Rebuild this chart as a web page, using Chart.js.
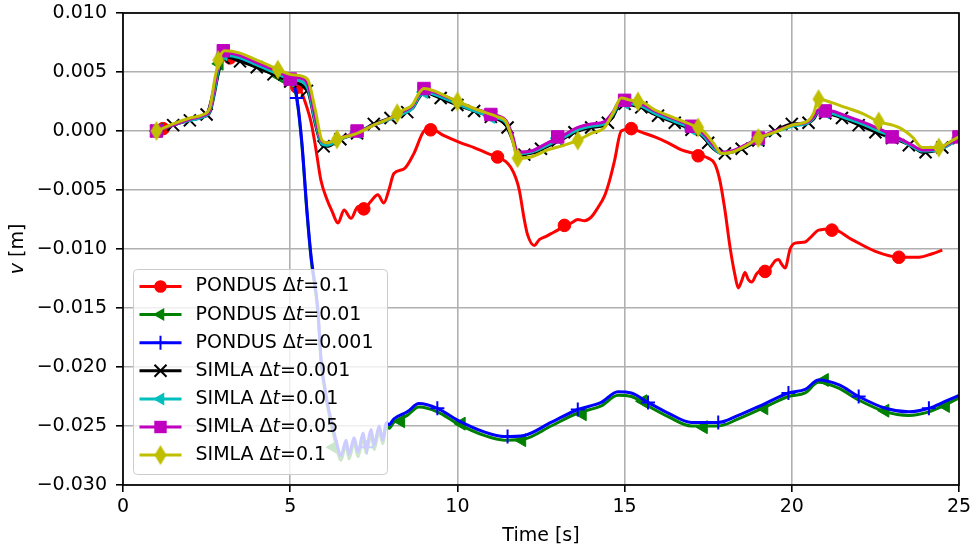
<!DOCTYPE html>
<html>
<head>
<meta charset="utf-8">
<script src="https://cdn.jsdelivr.net/npm/chart.js@4/dist/chart.umd.min.js"></script>
<style>
html,body{margin:0;padding:0;background:#fff;}
#wrap{width:974px;height:550px;}
</style>
</head>
<body>
<div id="wrap"><canvas id="c" width="974" height="550"></canvas></div>
<script>
// ---------------- DATA (time [s], v [m]) ----------------
const xTicks = [0, 5, 10, 15, 20, 25];
const yTicks = [-0.030, -0.025, -0.020, -0.015, -0.010, -0.005, 0.000, 0.005, 0.010];
const seriesNames = ['PONDUS', 'PONDUS', 'PONDUS', 'SIMLA', 'SIMLA', 'SIMLA', 'SIMLA'];
const seriesDt = ['0.1', '0.01', '0.001', '0.001', '0.01', '0.05', '0.1'];

// PONDUS dt=0.1 (red)
const pondus01Line = [
 [1.0,0.0000],[1.5,0.0005],[2.0,0.0010],[2.5,0.0014],[2.75,0.0040],[2.95,0.0060],[3.2,0.0063],[3.5,0.0060],
 [4.0,0.0055],[4.5,0.0048],[5.0,0.0042],[5.2,0.0038],[5.32,0.0034],[5.5,0.0020],[5.62,0.0008],[5.75,-0.0012],
 [5.92,-0.0042],[6.1,-0.0058],[6.25,-0.0068],[6.43,-0.0078],[6.61,-0.0067],[6.82,-0.0074],[7.03,-0.0064],
 [7.21,-0.0066],[7.4,-0.0060],[7.62,-0.0054],[7.8,-0.0061],[7.95,-0.0050],[8.1,-0.0036],[8.41,-0.0032],
 [8.7,-0.0019],[9.0,0.0000],[9.2,0.0002],[9.6,-0.0004],[10.1,-0.0010],[10.5,-0.0014],[10.9,-0.0019],
 [11.2,-0.0022],[11.45,-0.0026],[11.6,-0.0031],[11.75,-0.0040],[11.85,-0.0050],[12.0,-0.0075],[12.1,-0.0088],
 [12.3,-0.0097],[12.45,-0.0092],[12.6,-0.0090],[12.8,-0.0087],[13.0,-0.0084],[13.2,-0.0080],[13.4,-0.0078],
 [13.6,-0.0075],[13.8,-0.0076],[14.0,-0.0073],[14.2,-0.0065],[14.4,-0.0055],[14.55,-0.0042],[14.7,-0.0025],
 [14.9,0.0000],[15.2,0.0002],[15.5,-0.0001],[15.9,-0.0005],[16.3,-0.0010],[16.7,-0.0016],[17.2,-0.0020],
 [17.5,-0.0023],[17.7,-0.0028],[17.85,-0.0042],[18.0,-0.0067],[18.15,-0.0098],[18.3,-0.0122],[18.4,-0.0133],
 [18.5,-0.0127],[18.6,-0.0120],[18.7,-0.0126],[18.8,-0.0128],[18.95,-0.0121],[19.1,-0.0118],[19.25,-0.0119],
 [19.4,-0.0114],[19.5,-0.0110],[19.6,-0.0109],[19.7,-0.0113],[19.8,-0.0116],[19.95,-0.0100],[20.1,-0.0095],
 [20.4,-0.0094],[20.6,-0.0089],[20.8,-0.0084],[21.2,-0.0083],[21.8,-0.0092],[22.5,-0.0102],[23.2,-0.0107],
 [23.8,-0.0107],[24.2,-0.0104],[24.5,-0.0101]
];
const pondus01Marks = [[1.2,0.0002],[3.2,0.0062],[5.2,0.0037],[7.2,-0.0066],[9.2,0.0001],[11.2,-0.0022],
 [13.2,-0.0080],[15.2,0.0002],[17.2,-0.0021],[19.2,-0.0119],[21.2,-0.0084],[23.2,-0.0107]];

// PONDUS dt=0.01 (green)
const pondus001Line = [
 [1.0,0.0000],[1.5,0.0005],[2.0,0.0010],[2.5,0.0014],[2.75,0.0037],[2.95,0.0058],[3.2,0.0063],[3.5,0.0060],
 [4.0,0.0054],[4.5,0.0048],[5.0,0.0042],[5.1,0.0039],[5.2,0.0027],[5.35,-0.0012],[5.5,-0.0069],[5.62,-0.0107],
 [5.83,-0.0155],[5.92,-0.0195],[6.1,-0.0231],[6.37,-0.0266],[6.52,-0.0279],[6.67,-0.0266],[6.76,-0.0278],
 [6.91,-0.0264],[7.03,-0.0276],[7.18,-0.0260],[7.27,-0.0273],[7.42,-0.0257],[7.51,-0.0270],[7.66,-0.0254],
 [7.77,-0.0265],[7.87,-0.0250],[7.95,-0.0252],[8.1,-0.0247],[8.5,-0.0241],[8.85,-0.0234],[9.4,-0.0238],
 [10.0,-0.0248],[10.8,-0.0258],[11.4,-0.0262],[12.0,-0.0261],[12.8,-0.0250],[13.6,-0.0239],[14.3,-0.0233],
 [14.8,-0.0224],[15.2,-0.0225],[15.7,-0.0233],[16.3,-0.0242],[17.0,-0.0250],[17.8,-0.0250],[18.4,-0.0244],
 [19.2,-0.0234],[19.9,-0.0225],[20.4,-0.0222],[20.8,-0.0213],[21.4,-0.0218],[22.0,-0.0228],[22.8,-0.0238],
 [23.5,-0.0241],[24.1,-0.0238],[24.6,-0.0232],[25.0,-0.0226]
];
const pondus001Marks = [[1.07,0.0001],[2.88,0.0057],[4.69,0.0046],[6.3,-0.0268],[8.31,-0.0246],[10.12,-0.0248],
 [11.93,-0.0262],[13.74,-0.0240],[15.55,-0.0229],[17.36,-0.0251],[19.17,-0.0235],[20.98,-0.0211],[22.79,-0.0237],[24.6,-0.0233]];

// PONDUS dt=0.001 (blue)
const pondus0001Line = [
 [1.0,0.0000],[1.5,0.0005],[2.0,0.0010],[2.5,0.0014],[2.75,0.0038],[2.95,0.0060],[3.2,0.0064],[3.5,0.0061],
 [4.0,0.0055],[4.5,0.0049],[5.0,0.0043],[5.1,0.0040],[5.2,0.0028],[5.35,-0.0010],[5.5,-0.0067],[5.62,-0.0105],
 [5.83,-0.0152],[5.92,-0.0192],[6.1,-0.0228],[6.37,-0.0262],[6.52,-0.0275],[6.67,-0.0262],[6.76,-0.0274],
 [6.91,-0.0260],[7.03,-0.0272],[7.18,-0.0256],[7.27,-0.0269],[7.42,-0.0253],[7.51,-0.0266],[7.66,-0.0250],
 [7.77,-0.0262],[7.87,-0.0247],[7.95,-0.0249],[8.1,-0.0244],[8.5,-0.0238],[8.85,-0.0231],[9.4,-0.0235],
 [10.0,-0.0245],[10.8,-0.0255],[11.4,-0.0259],[12.0,-0.0258],[12.8,-0.0247],[13.6,-0.0236],[14.3,-0.0230],
 [14.8,-0.0221],[15.2,-0.0222],[15.7,-0.0230],[16.3,-0.0239],[17.0,-0.0247],[17.8,-0.0247],[18.4,-0.0241],
 [19.2,-0.0231],[19.9,-0.0222],[20.4,-0.0219],[20.8,-0.0211],[21.4,-0.0215],[22.0,-0.0225],[22.8,-0.0235],
 [23.5,-0.0238],[24.1,-0.0235],[24.6,-0.0229],[25.0,-0.0224]
];
const pondus0001Marks = [[1.0,0.0000],[3.1,0.0064],[5.2,0.0028],[7.3,-0.0268],[9.4,-0.0235],[11.5,-0.0259],
 [13.6,-0.0236],[15.7,-0.0230],[17.8,-0.0247],[19.9,-0.0222],[22.0,-0.0225],[24.1,-0.0235]];

// SIMLA dt=0.001 (black)
const simla0001Line = [
 [1.0,0.0000],[1.5,0.0005],[2.0,0.0009],[2.4,0.0012],[2.6,0.0016],[2.75,0.0034],[2.9,0.0057],[3.05,0.0063],
 [3.5,0.0059],[4.0,0.0054],[4.5,0.0048],[5.0,0.0042],[5.4,0.0038],[5.55,0.0032],[5.75,0.0006],[5.95,-0.0012],
 [6.1,-0.0013],[6.5,-0.0007],[7.0,-0.0002],[7.5,0.0006],[8.0,0.0011],[8.4,0.0015],[8.65,0.0019],[8.85,0.0028],
 [9.0,0.0033],[9.3,0.0030],[10.0,0.0022],[10.6,0.0016],[11.2,0.0010],[11.45,0.0005],[11.65,-0.0008],[11.8,-0.0020],
 [12.2,-0.0019],[12.7,-0.0013],[13.2,-0.0006],[13.6,0.0000],[14.0,0.0003],[14.4,0.0005],[14.65,0.0012],[14.9,0.0024],
 [15.2,0.0022],[15.5,0.0020],[15.9,0.0014],[16.5,0.0007],[17.1,0.0000],[17.35,-0.0005],[17.65,-0.0015],[17.9,-0.0019],
 [18.2,-0.0018],[18.6,-0.0014],[19.0,-0.0008],[19.5,0.0000],[20.0,0.0006],[20.5,0.0007],[20.65,0.0010],[20.8,0.0016],
 [21.2,0.0014],[21.6,0.0010],[22.1,0.0004],[22.6,-0.0002],[23.2,-0.0008],[23.6,-0.0013],[23.9,-0.0018],[24.4,-0.0016],
 [24.8,-0.0010],[25.0,-0.0006]
];
const simla0001Marks = [[1.0,0.0000],[1.5,0.0005],[2.0,0.0009],[2.5,0.0014],[3.0,0.0062],[3.5,0.0059],[4.0,0.0054],
 [4.5,0.0048],[5.0,0.0042],[5.5,0.0034],[6.0,-0.0013],[6.5,-0.0007],[7.0,-0.0002],[7.5,0.0006],[8.0,0.0011],
 [8.5,0.0016],[9.0,0.0033],[9.5,0.0028],[10.0,0.0022],[10.5,0.0017],[11.0,0.0012],[11.5,0.0003],[12.0,-0.0020],
 [12.5,-0.0015],[13.0,-0.0008],[13.5,-0.0001],[14.0,0.0003],[14.5,0.0007],[15.0,0.0023],[15.5,0.0020],[16.0,0.0013],
 [16.5,0.0007],[17.0,0.0001],[17.5,-0.0010],[18.0,-0.0019],[18.5,-0.0015],[19.0,-0.0008],[19.5,0.0000],[20.0,0.0006],
 [20.5,0.0007],[21.0,0.0015],[21.5,0.0011],[22.0,0.0005],[22.5,-0.0001],[23.0,-0.0006],[23.5,-0.0012],[24.0,-0.0018],
 [24.5,-0.0014],[25.0,-0.0006]];

// SIMLA dt=0.01 (cyan)
const simla001Line = [
 [1.0,0.0000],[1.5,0.0005],[2.0,0.0009],[2.4,0.0012],[2.6,0.0017],[2.75,0.0036],[2.9,0.0059],[3.05,0.0064],
 [3.5,0.0062],[4.0,0.0056],[4.5,0.0050],[5.0,0.0044],[5.4,0.0041],[5.55,0.0034],[5.75,0.0008],[5.95,-0.0011],
 [6.1,-0.0012],[6.5,-0.0007],[7.0,-0.0001],[7.5,0.0005],[8.0,0.0010],[8.4,0.0015],[8.65,0.0019],[8.85,0.0029],
 [9.0,0.0033],[9.3,0.0031],[10.0,0.0023],[10.6,0.0016],[11.2,0.0011],[11.45,0.0007],[11.65,-0.0006],[11.8,-0.0019],
 [12.2,-0.0018],[12.7,-0.0012],[13.2,-0.0005],[13.6,0.0001],[14.0,0.0004],[14.4,0.0006],[14.65,0.0014],[14.9,0.0025],
 [15.2,0.0023],[15.5,0.0021],[15.9,0.0015],[16.5,0.0008],[17.1,0.0001],[17.35,-0.0004],[17.65,-0.0014],[17.9,-0.0019],
 [18.2,-0.0018],[18.6,-0.0013],[19.0,-0.0007],[19.5,-0.0001],[20.0,0.0004],[20.5,0.0007],[20.65,0.0011],[20.8,0.0017],
 [21.2,0.0015],[21.6,0.0011],[22.1,0.0006],[22.6,0.0000],[23.2,-0.0007],[23.6,-0.0013],[23.9,-0.0017],[24.4,-0.0016],
 [24.8,-0.0010],[25.0,-0.0006]
];
const simla001Marks = [[1.0,0.0000],[3.0,0.0065],[5.0,0.0043],[7.0,-0.0001],[9.0,0.0033],[11.0,0.0012],
 [13.0,-0.0006],[15.0,0.0024],[17.0,0.0002],[19.0,-0.0007],[21.0,0.0016],[23.0,-0.0005],[25.0,-0.0006]];

// SIMLA dt=0.05 (magenta)
const simla005Line = [
 [1.0,0.0000],[1.5,0.0005],[2.0,0.0010],[2.4,0.0013],[2.6,0.0018],[2.75,0.0040],[2.9,0.0062],[3.05,0.0066],
 [3.5,0.0064],[4.0,0.0058],[4.5,0.0052],[5.0,0.0046],[5.4,0.0044],[5.55,0.0038],[5.75,0.0012],[5.95,-0.0009],
 [6.1,-0.0010],[6.5,-0.0006],[7.0,-0.0001],[7.5,0.0005],[8.0,0.0011],[8.4,0.0017],[8.65,0.0021],[8.85,0.0031],
 [9.0,0.0035],[9.3,0.0033],[10.0,0.0025],[10.6,0.0018],[11.2,0.0013],[11.45,0.0009],[11.65,-0.0004],[11.8,-0.0018],
 [12.2,-0.0017],[12.7,-0.0010],[13.2,-0.0003],[13.6,0.0003],[14.0,0.0006],[14.4,0.0008],[14.65,0.0016],[14.9,0.0027],
 [15.2,0.0025],[15.5,0.0023],[15.9,0.0017],[16.5,0.0010],[17.1,0.0003],[17.35,-0.0002],[17.65,-0.0012],[17.9,-0.0018],
 [18.2,-0.0017],[18.6,-0.0012],[19.0,-0.0006],[19.5,0.0000],[20.0,0.0005],[20.5,0.0008],[20.65,0.0012],[20.8,0.0018],
 [21.2,0.0017],[21.6,0.0013],[22.1,0.0008],[22.6,0.0002],[23.2,-0.0006],[23.6,-0.0012],[23.9,-0.0016],[24.4,-0.0015],
 [24.8,-0.0009],[25.0,-0.0006]
];
const simla005Marks = [[1.0,0.0000],[3.0,0.0068],[5.0,0.0044],[7.0,0.0000],[9.0,0.0036],[11.0,0.0014],
 [13.0,-0.0005],[15.0,0.0026],[17.0,0.0004],[19.0,-0.0006],[21.0,0.0017],[23.0,-0.0005],[25.0,-0.0005]];

// SIMLA dt=0.1 (yellow)
const simla01Line = [
 [1.0,0.0000],[1.5,0.0006],[2.0,0.0011],[2.4,0.0014],[2.6,0.0020],[2.75,0.0045],[2.9,0.0063],[3.05,0.0068],
 [3.5,0.0066],[4.0,0.0060],[4.5,0.0054],[5.0,0.0048],[5.4,0.0046],[5.55,0.0042],[5.75,0.0018],[5.95,-0.0008],
 [6.1,-0.0010],[6.5,-0.0006],[7.0,-0.0002],[7.5,0.0005],[8.0,0.0011],[8.4,0.0018],[8.65,0.0022],[8.85,0.0032],
 [9.0,0.0036],[9.3,0.0034],[10.0,0.0025],[10.6,0.0018],[11.2,0.0012],[11.45,0.0008],[11.65,-0.0008],[11.8,-0.0023],
 [12.2,-0.0022],[12.7,-0.0016],[13.2,-0.0012],[13.6,-0.0008],[14.0,-0.0002],[14.4,0.0003],[14.65,0.0015],[14.9,0.0028],
 [15.2,0.0026],[15.5,0.0025],[15.9,0.0018],[16.5,0.0011],[17.1,0.0004],[17.35,0.0000],[17.65,-0.0010],[17.9,-0.0019],
 [18.2,-0.0018],[18.6,-0.0013],[19.0,-0.0006],[19.5,-0.0001],[20.0,0.0005],[20.5,0.0009],[20.65,0.0015],[20.8,0.0027],
 [21.2,0.0024],[21.6,0.0020],[22.1,0.0015],[22.6,0.0008],[23.2,0.0003],[23.6,-0.0005],[23.9,-0.0014],[24.4,-0.0014],
 [24.8,-0.0008],[25.0,-0.0005]
];
const simla01Marks = [[1.0,0.0000],[2.85,0.0060],[4.63,0.0052],[6.4,-0.0007],[8.2,0.0015],[10.0,0.0025],
 [11.8,-0.0023],[13.6,-0.0008],[15.4,0.0025],[17.2,0.0003],[19.0,-0.0006],[20.8,0.0027],[22.6,0.0008],[24.4,-0.0014]];

// ---------------- STYLE ----------------
const FONT = "'DejaVu Sans', 'Liberation Sans', sans-serif";
const FS = 19;
function thinDiamond(color) {
  const c = document.createElement('canvas');
  c.width = 14; c.height = 22;
  const g = c.getContext('2d');
  g.fillStyle = color;
  g.beginPath(); g.moveTo(7, 1); g.lineTo(13, 11); g.lineTo(7, 21); g.lineTo(1, 11); g.closePath(); g.fill();
  return c;
}
const series = [
  {line: pondus01Line,  marks: pondus01Marks,  color: '#ff0000', style: 'circle',   radius: 6.3, rot: 0,   bw: 1},
  {line: pondus001Line, marks: pondus001Marks, color: '#008000', style: 'triangle', radius: 7.5, rot: -90, bw: 1},
  {line: pondus0001Line,marks: pondus0001Marks,color: '#0000ff', style: 'cross',    radius: 7,   rot: 0,   bw: 2},
  {line: simla0001Line, marks: simla0001Marks, color: '#000000', style: 'crossRot', radius: 8.5, rot: 0,   bw: 2},
  {line: simla001Line,  marks: simla001Marks,  color: '#00bfbf', style: 'triangle', radius: 7.5, rot: -90, bw: 1},
  {line: simla005Line,  marks: simla005Marks,  color: '#bf00bf', style: 'rect',     radius: 8.8, rot: 0,   bw: 1},
  {line: simla01Line,   marks: simla01Marks,   color: '#bfbf00', style: 'diamond',  radius: 8,   rot: 0,   bw: 1}
];
series.forEach(s => { if (s.style === 'diamond') s.img = thinDiamond(s.color); });

const toXY = arr => arr.map(p => ({x: p[0], y: p[1]}));
const datasets = [];
const N = series.length;
series.forEach((s, i) => {
  datasets.push({
    data: toXY(s.line), showLine: true, borderColor: s.color, backgroundColor: s.color,
    borderWidth: 3, pointRadius: 0, pointHoverRadius: 0, fill: false,
    cubicInterpolationMode: 'monotone', order: 2 * (N - i) + 1, clip: 0
  });
  datasets.push({
    data: toXY(s.marks), showLine: false, borderColor: s.color, backgroundColor: s.color,
    pointStyle: s.img || s.style, pointRadius: s.radius, pointHoverRadius: s.radius,
    pointRotation: s.rot, pointBorderWidth: s.bw, order: 2 * (N - i), clip: 0
  });
});

function fmtY(v) {
  const r = Math.round(v * 1000) / 1000;
  let t = Math.abs(r).toFixed(3);
  return (r < 0 ? '\u2212' : '') + t;
}

function drawLegendMarker(ctx, s, x, y) {
  ctx.save();
  ctx.fillStyle = s.color; ctx.strokeStyle = s.color;
  ctx.beginPath();
  if (s.style === 'circle') {
    ctx.arc(x, y, 6.3, 0, Math.PI * 2); ctx.fill();
  } else if (s.style === 'triangle') {
    ctx.moveTo(x - 7.5, y); ctx.lineTo(x + 3.75, y - 6.5); ctx.lineTo(x + 3.75, y + 6.5); ctx.closePath(); ctx.fill();
  } else if (s.style === 'cross') {
    ctx.lineWidth = 2; ctx.moveTo(x - 7, y); ctx.lineTo(x + 7, y); ctx.moveTo(x, y - 7); ctx.lineTo(x, y + 7); ctx.stroke();
  } else if (s.style === 'crossRot') {
    ctx.lineWidth = 2; ctx.moveTo(x - 6, y - 6); ctx.lineTo(x + 6, y + 6); ctx.moveTo(x + 6, y - 6); ctx.lineTo(x - 6, y + 6); ctx.stroke();
  } else if (s.style === 'rect') {
    ctx.fillRect(x - 6.2, y - 6.2, 12.4, 12.4);
  } else if (s.style === 'diamond') {
    ctx.drawImage(s.img, x - s.img.width / 2, y - s.img.height / 2);
  }
  ctx.restore();
}

const overlay = {
  id: 'overlay',
  afterDatasetsDraw(chart) {
    const ctx = chart.ctx, a = chart.chartArea;
    ctx.save();
    // spines
    ctx.strokeStyle = '#000'; ctx.lineWidth = 1.7;
    ctx.strokeRect(a.left, a.top, a.right - a.left, a.bottom - a.top);
    // legend box
    const bx = a.left + 10.5, bw = 254, bh = 205, by = a.bottom - 10.5 - bh;
    ctx.beginPath();
    if (ctx.roundRect) ctx.roundRect(bx, by, bw, bh, 4); else ctx.rect(bx, by, bw, bh);
    ctx.fillStyle = 'rgba(255,255,255,0.8)'; ctx.fill();
    ctx.strokeStyle = '#cccccc'; ctx.lineWidth = 1; ctx.stroke();
    // entries
    ctx.textBaseline = 'middle';
    series.forEach((s, i) => {
      const y = by + 17 + i * 28.1;
      ctx.strokeStyle = s.color; ctx.lineWidth = 3;
      ctx.beginPath(); ctx.moveTo(bx + 6, y); ctx.lineTo(bx + 48, y); ctx.stroke();
      drawLegendMarker(ctx, s, bx + 27, y);
      let tx = bx + 62;
      ctx.fillStyle = '#000';
      ctx.font = FS + 'px ' + FONT;
      const p1 = seriesNames[i] + ' \u0394';
      ctx.fillText(p1, tx, y); tx += ctx.measureText(p1).width;
      ctx.font = 'italic ' + FS + 'px ' + FONT;
      ctx.fillText('t', tx, y); tx += ctx.measureText('t').width;
      ctx.font = FS + 'px ' + FONT;
      ctx.fillText('=' + seriesDt[i], tx, y);
    });
    ctx.restore();
  },
  afterDraw(chart) {
    const ctx = chart.ctx, a = chart.chartArea;
    ctx.save();
    ctx.fillStyle = '#000';
    ctx.textBaseline = 'middle'; ctx.textAlign = 'center';
    ctx.font = FS + 'px ' + FONT;
    ctx.fillText('Time [s]', (a.left + a.right) / 2, 536);
    // y label: italic v + " [m]"
    ctx.translate(18, (a.top + a.bottom) / 2);
    ctx.rotate(-Math.PI / 2);
    ctx.textAlign = 'left';
    ctx.font = 'italic ' + FS + 'px ' + FONT;
    const w1 = ctx.measureText('v').width;
    ctx.font = FS + 'px ' + FONT;
    const w2 = ctx.measureText(' [m]').width;
    const start = -(w1 + w2) / 2;
    ctx.font = 'italic ' + FS + 'px ' + FONT;
    ctx.fillText('v', start, 0);
    ctx.font = FS + 'px ' + FONT;
    ctx.fillText(' [m]', start + w1, 0);
    ctx.restore();
  }
};

const tickFont = {family: FONT, size: FS};
new Chart(document.getElementById('c'), {
  type: 'scatter',
  data: {datasets},
  options: {
    responsive: false, animation: false, devicePixelRatio: 1,
    events: [],
    layout: {padding: {left: 0, right: 15, top: 13, bottom: 0}},
    plugins: {legend: {display: false}, tooltip: {enabled: false}},
    scales: {
      x: {
        type: 'linear', min: xTicks[0], max: xTicks[xTicks.length - 1],
        afterBuildTicks: sc => { sc.ticks = xTicks.map(v => ({value: v})); },
        ticks: {color: '#000', font: tickFont, padding: 4, maxRotation: 0, autoSkip: false,
                callback: v => String(v)},
        grid: {color: '#b0b0b0', lineWidth: 1.6, tickLength: 7, tickColor: '#000', tickWidth: 1.6},
        border: {display: false},
        afterFit: sc => { sc.height = 65; sc.paddingLeft = 0; sc.paddingRight = 0; }
      },
      y: {
        type: 'linear', min: yTicks[0], max: yTicks[yTicks.length - 1],
        afterBuildTicks: sc => { sc.ticks = yTicks.map(v => ({value: v})); },
        ticks: {color: '#000', font: tickFont, padding: 9, autoSkip: false, callback: v => fmtY(v)},
        grid: {color: '#b0b0b0', lineWidth: 1.6, tickLength: 7, tickColor: '#000', tickWidth: 1.6},
        border: {display: false},
        afterFit: sc => { sc.width = 123; sc.paddingTop = 0; sc.paddingBottom = 0; }
      }
    }
  },
  plugins: [overlay]
});
</script>
</body>
</html>
